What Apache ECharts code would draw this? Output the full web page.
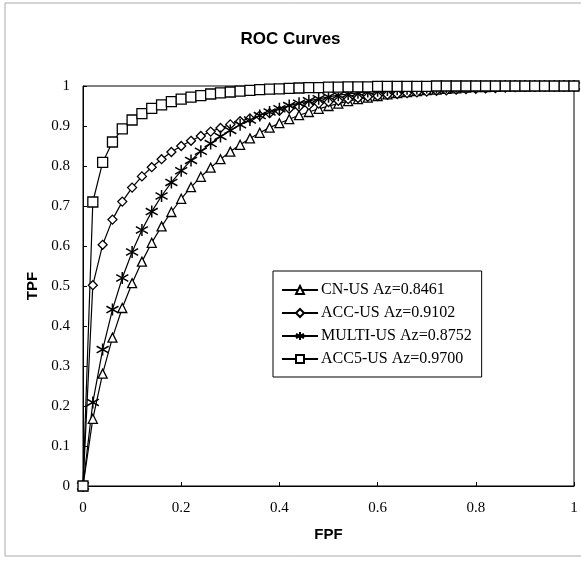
<html>
<head>
    <meta charset="utf-8">
    <title>ROC Curves</title>
    <script src="https://cdn.jsdelivr.net/npm/echarts@6.0.0/dist/echarts.min.js"></script>
    <style>
        body { margin: 0; background: #fff; }
    </style>
</head>
<body>
<div id="roc" style="width: 581px;height:561px;"></div>
<script type="text/javascript">
    // FPF sampling points (x axis)
    var fpf = [0,0.02,0.04,0.06,0.08,0.1,0.12,0.14,0.16,0.18,0.2,0.22,0.24,0.26,0.28,0.3,0.32,0.34,0.36,0.38,0.4,
        0.42,0.44,0.46,0.48,0.5,0.52,0.54,0.56,0.58,0.6,0.62,0.64,0.66,0.68,0.7,0.72,0.74,0.76,0.78,0.8,
        0.82,0.84,0.86,0.88,0.9,0.92,0.94,0.96,0.98,1];

    // TPF
    var cnUs = [0,0.168,0.281,0.371,0.445,0.507,0.561,0.608,0.649,0.685,0.718,0.747,0.773,0.796,0.817,0.836,0.853,0.869,0.883,0.896,0.907,
        0.917,0.927,0.935,0.943,0.950,0.956,0.962,0.967,0.971,0.975,0.979,0.982,0.985,0.987,0.990,0.991,0.993,0.994,0.996,0.997,
        0.997,0.998,0.999,0.999,0.999,1,1,1,1,1];
    var accUs = [0,0.502,0.603,0.666,0.711,0.746,0.774,0.797,0.817,0.835,0.850,0.863,0.875,0.886,0.895,0.904,0.912,0.919,0.926,0.932,0.938,
        0.943,0.948,0.952,0.956,0.960,0.963,0.967,0.970,0.973,0.975,0.978,0.980,0.982,0.984,0.986,0.988,0.989,0.991,0.992,0.993,
        0.994,0.995,0.996,0.997,0.998,0.998,0.999,0.999,1,1];
    var multiUs = [0,0.209,0.341,0.441,0.520,0.585,0.640,0.686,0.725,0.759,0.788,0.814,0.837,0.856,0.874,0.889,0.903,0.915,0.926,0.935,0.943,
        0.951,0.957,0.963,0.968,0.973,0.977,0.980,0.983,0.986,0.988,0.990,0.992,0.993,0.994,0.996,0.996,0.997,0.998,0.998,0.999,
        0.999,0.999,1,1,1,1,1,1,1,1];
    var acc5Us = [0,0.710,0.809,0.860,0.893,0.915,0.931,0.944,0.953,0.961,0.967,0.972,0.976,0.980,0.983,0.985,0.987,0.989,0.991,0.992,0.993,
        0.994,0.995,0.996,0.996,0.997,0.997,0.998,0.998,0.998,0.999,0.999,0.999,0.999,0.999,0.999,1,1,1,1,1,
        1,1,1,1,1,1,1,1,1,1];

    var names = ['CN-US Az=0.8461', 'ACC-US Az=0.9102', 'MULTI-US Az=0.8752', 'ACC5-US Az=0.9700'];

    function pairs(ys) {
        var res = [];
        for (var i = 0; i < fpf.length; i++) {
            res.push([fpf[i], ys[i]]);
        }
        return res;
    }

    var star = 'path://M5,0L5,10M0,2.2L10,7.8M0,7.8L10,2.2';

    function curve(name, ys, symbol, size, bw) {
        return {
            name: name,
            type: 'line',
            data: pairs(ys),
            symbol: symbol,
            symbolSize: size,
            showAllSymbol: true,
            lineStyle: { color: '#000', width: 1.2 },
            itemStyle: { color: '#fff', borderColor: '#000', borderWidth: bw },
            emphasis: { disabled: true },
            animation: false
        };
    }

    var chart = echarts.init(document.getElementById('roc'));
    var option = {
        backgroundColor: '#fff',
        title: {
            text: 'ROC Curves',
            left: 'center',
            top: 26,
            textStyle: { fontFamily: 'Liberation Sans', fontWeight: 'bold', fontSize: 17, color: '#000' }
        },
        graphic: [{
            type: 'rect',
            shape: { x: 5, y: 3, width: 600, height: 553 },
            style: { fill: 'none', stroke: '#aaa', lineWidth: 1 },
            silent: true
        }],
        legend: {
            orient: 'vertical',
            left: 273,
            top: 271,
            padding: [11, 10, 10, 8],
            itemGap: 7,
            itemWidth: 36,
            itemHeight: 10,
            borderColor: '#000',
            borderWidth: 1,
            data: names,
            textStyle: { fontFamily: 'Liberation Serif', fontSize: 16, color: '#000', padding: [0, 0, 0, -2] }
        },
        grid: {
            left: 83,
            top: 86,
            right: 7,
            bottom: 75,
            show: true,
            borderColor: '#000',
            borderWidth: 1
        },
        xAxis: {
            type: 'value',
            min: 0,
            max: 1,
            interval: 0.2,
            name: 'FPF',
            nameLocation: 'middle',
            nameGap: 41,
            nameTextStyle: { fontFamily: 'Liberation Sans', fontWeight: 'bold', fontSize: 15, color: '#000' },
            axisLine: { lineStyle: { color: '#000', width: 1 } },
            axisTick: { inside: true, length: 4, lineStyle: { color: '#000' } },
            axisLabel: { fontFamily: 'Liberation Serif', fontSize: 15, color: '#000', margin: 15 },
            splitLine: { show: false }
        },
        yAxis: {
            type: 'value',
            min: 0,
            max: 1,
            interval: 0.1,
            name: 'TPF',
            nameLocation: 'middle',
            nameGap: 42,
            nameTextStyle: { fontFamily: 'Liberation Sans', fontWeight: 'bold', fontSize: 15, color: '#000' },
            axisLine: { lineStyle: { color: '#000', width: 1 } },
            axisTick: { inside: true, length: 4, lineStyle: { color: '#000' } },
            axisLabel: { fontFamily: 'Liberation Serif', fontSize: 15, color: '#000', margin: 13 },
            splitLine: { show: false }
        },
        series: [
            curve(names[0], cnUs, 'triangle', 9, 1.3),
            curve(names[1], accUs, 'diamond', 9, 1.3),
            curve(names[2], multiUs, star, 12, 1.5),
            curve(names[3], acc5Us, 'rect', 10, 1.3)
        ]
    };
    chart.setOption(option);
</script>
</body>
</html>
